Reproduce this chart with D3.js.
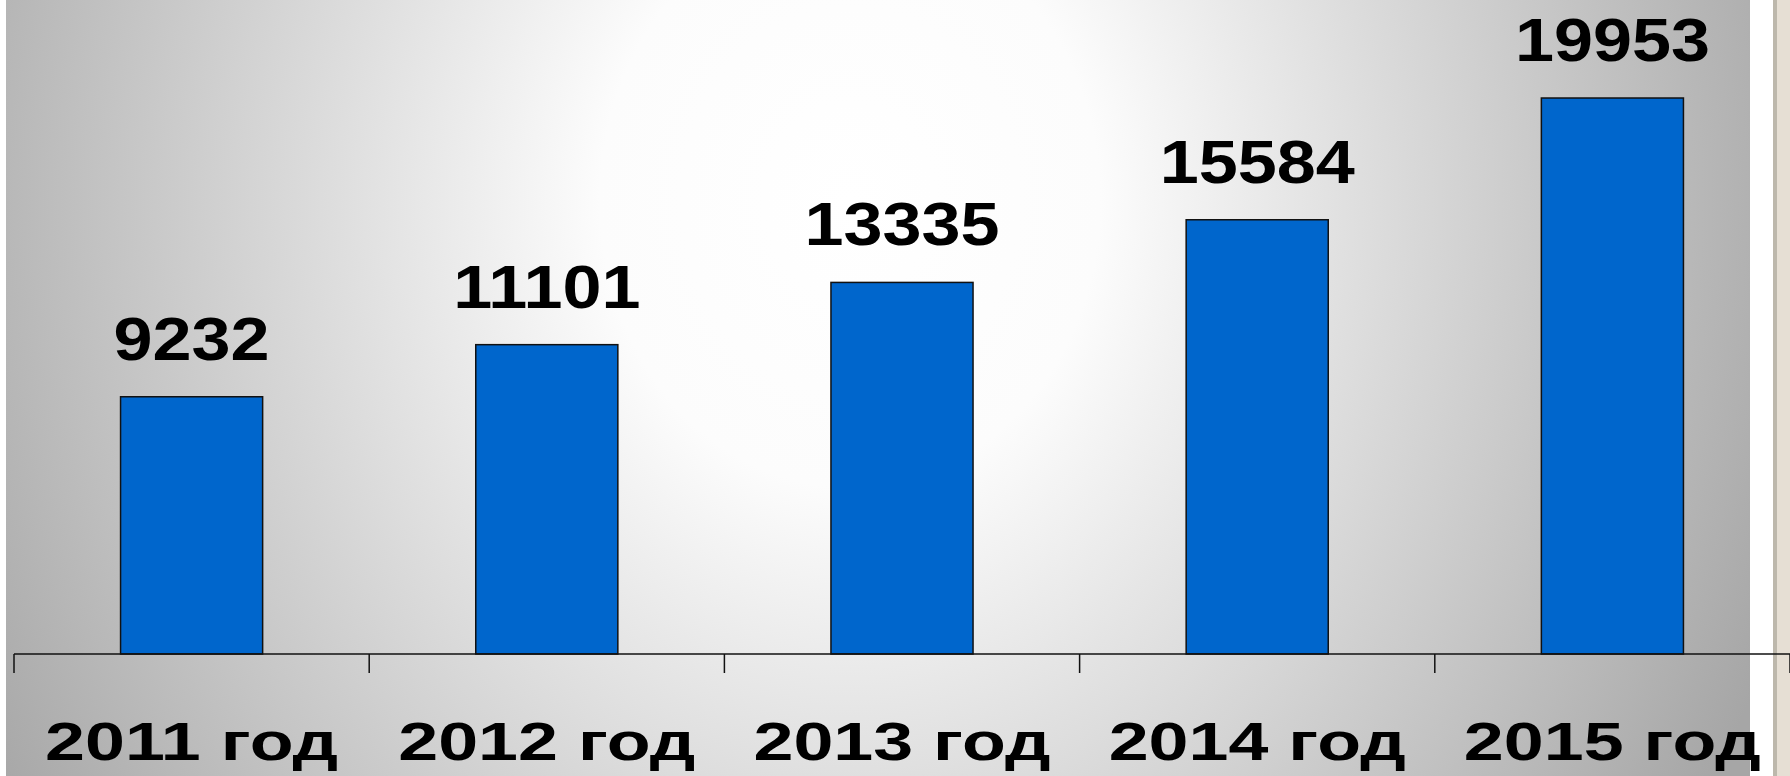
<!DOCTYPE html>
<html>
<head>
<meta charset="utf-8">
<script src="https://cdn.jsdelivr.net/npm/d3@7"></script>
<style>
  html, body { margin: 0; padding: 0; background: #ffffff; }
  svg { display: block; }
  text { font-family: "Liberation Sans", Arial, sans-serif; font-weight: bold; fill: #000; }
</style>
</head>
<body>
<svg id="chart" width="1790" height="776"></svg>
<script>
const categories = ["2011 год", "2012 год", "2013 год", "2014 год", "2015 год"];
const values = [9232, 11101, 13335, 15584, 19953];

const W = 1790, H = 776;
const svg = d3.select("#chart");

// background panels
const defs = svg.append("defs");
const grad = defs.append("radialGradient")
  .attr("id", "bg").attr("gradientUnits", "userSpaceOnUse")
  .attr("cx", 850).attr("cy", 200).attr("r", 1000)
  .attr("gradientTransform", "translate(850,200) scale(1,1.15) translate(-850,-200)");
grad.append("stop").attr("offset", 0).attr("stop-color", "#ffffff");
grad.append("stop").attr("offset", 0.25).attr("stop-color", "#fcfcfc");
grad.append("stop").attr("offset", 1).attr("stop-color", "#a6a6a6");

svg.append("rect").attr("x", 0).attr("y", 0).attr("width", W).attr("height", H).attr("fill", "#ffffff");
svg.append("rect").attr("x", 6).attr("y", 0).attr("width", 1744).attr("height", H).attr("fill", "url(#bg)");
svg.append("rect").attr("x", 1773).attr("y", 0).attr("width", 17).attr("height", H).attr("fill", "#e6dfd4");
svg.append("rect").attr("x", 1773).attr("y", 0).attr("width", 4).attr("height", H).attr("fill", "#bdb8ac");

// scales
const x = d3.scaleBand().domain(categories).range([14, 1790]).padding(0);
const y = d3.scaleLinear().domain([0, 20000]).range([654, 96.7]);
const barFrac = 0.4;

// bars
svg.append("g").selectAll("rect")
  .data(values)
  .join("rect")
  .attr("x", (d, i) => x(categories[i]) + x.bandwidth() * (1 - barFrac) / 2)
  .attr("y", d => y(d))
  .attr("width", x.bandwidth() * barFrac)
  .attr("height", d => y(0) - y(d))
  .attr("fill", "#0066cc")
  .attr("stroke", "#111")
  .attr("stroke-width", 1.5);

// axis line and ticks
const axis = svg.append("g");
axis.append("line")
  .attr("x1", x.range()[0]).attr("x2", x.range()[1])
  .attr("y1", y(0)).attr("y2", y(0))
  .attr("stroke", "#111").attr("stroke-width", 1.5);
const tickPos = categories.map(c => x(c)).concat([x.range()[1]]);
axis.selectAll("line.tick")
  .data(tickPos)
  .join("line")
  .attr("class", "tick")
  .attr("x1", d => d).attr("x2", d => d)
  .attr("y1", y(0)).attr("y2", y(0) + 19)
  .attr("stroke", "#111").attr("stroke-width", 1.5);

// value labels
svg.append("g").selectAll("text")
  .data(values)
  .join("text")
  .attr("text-anchor", "middle")
  .attr("font-size", 61)
  .attr("transform", (d, i) => {
    const cx = x(categories[i]) + x.bandwidth() / 2;
    return `translate(${cx},${y(d) - 37}) scale(1.15,1)`;
  })
  .text(d => d);

// category labels
svg.append("g").selectAll("text")
  .data(categories)
  .join("text")
  .attr("text-anchor", "middle")
  .attr("font-size", 54)
  .attr("transform", d => `translate(${x(d) + x.bandwidth() / 2},760) scale(1.33,1)`)
  .text(d => d);
</script>
</body>
</html>
